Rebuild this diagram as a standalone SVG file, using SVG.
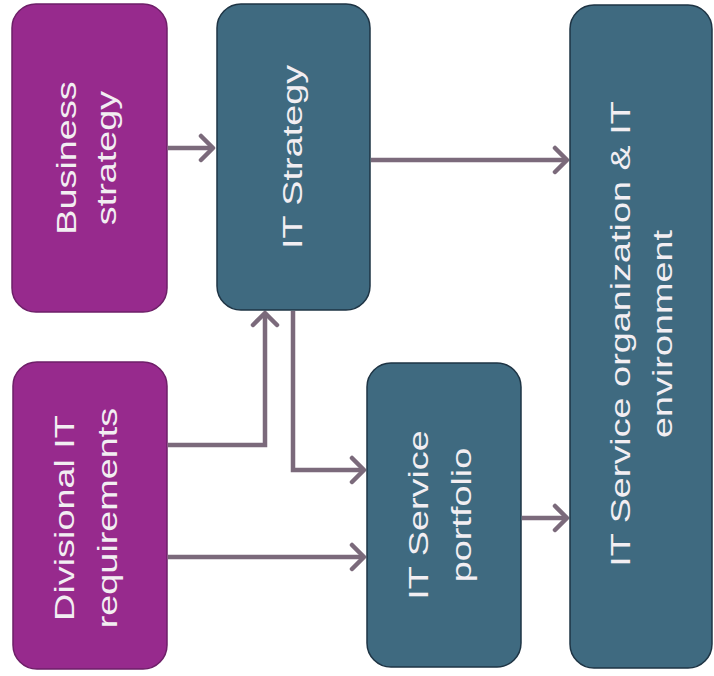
<svg xmlns="http://www.w3.org/2000/svg" width="714" height="676" viewBox="0 0 714 676">
  <defs>
    <style>
      .purple { fill: #972a8d; stroke: #6e1f68; stroke-width: 1.5; }
      .teal { fill: #3f6a80; stroke: #1e3444; stroke-width: 1.5; }
      .lbl { font-family: "Liberation Sans", Arial, sans-serif; font-size: 28px; fill: #f2eef2; text-anchor: middle; }
      .conn { fill: none; stroke: #7b6a7b; stroke-width: 4.5; marker-end: url(#arr); }
    </style>
    <marker id="arr" markerUnits="userSpaceOnUse" markerWidth="20" markerHeight="32" refX="15" refY="15" orient="auto" viewBox="0 0 20 30">
      <path d="M3,3 L15,15 L3,27" fill="none" stroke="#7b6a7b" stroke-width="4.5" stroke-linecap="round" stroke-linejoin="round"/>
    </marker>
  </defs>
  <rect width="714" height="676" fill="#ffffff"/>

  <g id="connectors">
    <path class="conn" d="M168,148 H213"/>
    <path class="conn" d="M371,160 H567"/>
    <path class="conn" d="M168,445 H265 V313"/>
    <path class="conn" d="M293,311 V470 H364"/>
    <path class="conn" d="M168,557 H364"/>
    <path class="conn" d="M522,518 H567"/>
  </g>

  <g id="business-strategy">
    <rect class="purple" x="12" y="4" width="155" height="308" rx="24"/>
    <text class="lbl" transform="translate(89.5,158) rotate(-90) scale(1.35,1)"><tspan x="0" y="-14">Business</tspan><tspan x="0" y="27">strategy</tspan></text>
  </g>

  <g id="it-strategy">
    <rect class="teal" x="217" y="4" width="153" height="306" rx="24"/>
    <text class="lbl" transform="translate(293.5,157) rotate(-90) scale(1.35,1)"><tspan x="0" y="8">IT Strategy</tspan></text>
  </g>

  <g id="divisional-it-requirements">
    <rect class="purple" x="13" y="362" width="154" height="307" rx="24"/>
    <text class="lbl" transform="translate(90,518) rotate(-90) scale(1.35,1)"><tspan x="0" y="-16">Divisional IT</tspan><tspan x="0" y="27">requirements</tspan></text>
  </g>

  <g id="it-service-portfolio">
    <rect class="teal" x="367" y="363" width="154" height="304" rx="24"/>
    <text class="lbl" transform="translate(444,515) rotate(-90) scale(1.35,1)"><tspan x="0" y="-16">IT Service</tspan><tspan x="0" y="27">portfolio</tspan></text>
  </g>

  <g id="it-service-organization">
    <rect class="teal" x="570" y="5" width="142" height="663" rx="24"/>
    <text class="lbl" transform="translate(644,334) rotate(-90) scale(1.35,1)"><tspan x="0" y="-14">IT Service organization &amp; IT</tspan><tspan x="0" y="28">environment</tspan></text>
  </g>
</svg>
